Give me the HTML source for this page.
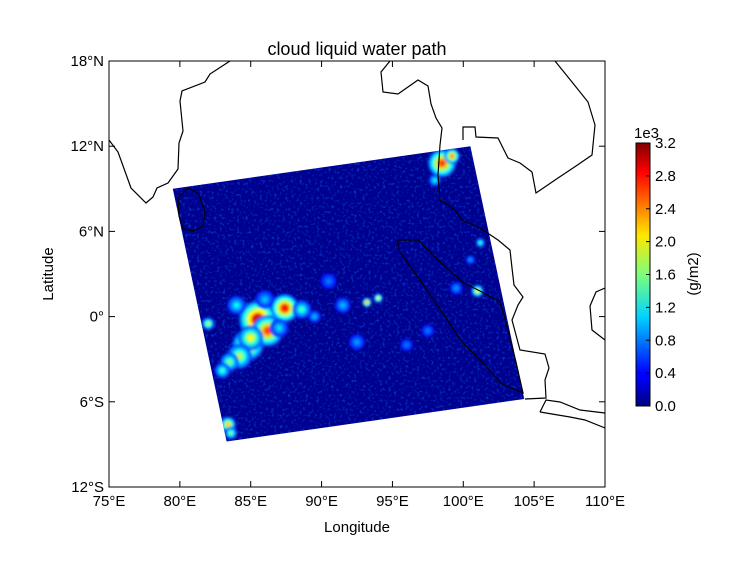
<!DOCTYPE html>
<html><head><meta charset="utf-8"><style>
html,body{margin:0;padding:0;background:#fff;}
svg{display:block;font-family:"Liberation Sans",sans-serif;}
</style></head><body>
<svg id="chart" width="744" height="575" viewBox="0 0 744 575">
<defs>
<filter id="blur" x="-50%" y="-50%" width="200%" height="200%"><feGaussianBlur stdDeviation="1.4"/></filter>
<filter id="speck" x="0" y="0" width="100%" height="100%">
<feTurbulence type="fractalNoise" baseFrequency="0.35" numOctaves="2" seed="3" result="n"/>
<feColorMatrix in="n" type="matrix" values="0 0 0 0 0  0 0 0 0 0.15  0 0 0 0 1  0 0 0 3 -1.6"/>
</filter>
<linearGradient id="jet" x1="0" y1="1" x2="0" y2="0">
<stop offset="0" stop-color="#00007f"/><stop offset="0.11" stop-color="#0000ff"/><stop offset="0.125" stop-color="#0000ff"/>
<stop offset="0.34" stop-color="#00d4ff"/><stop offset="0.5" stop-color="#7dff7a"/><stop offset="0.65" stop-color="#ffe600"/>
<stop offset="0.89" stop-color="#ff0000"/><stop offset="1" stop-color="#7f0000"/></linearGradient>
<clipPath id="plotclip"><rect x="109" y="61" width="496" height="426"/></clipPath>
</defs>
<rect width="744" height="575" fill="#fff"/>
<text x="357" y="55" font-size="18" text-anchor="middle">cloud liquid water path</text>
<g id="plot" clip-path="url(#plotclip)"></g>
<rect x="109" y="61" width="496" height="426" fill="none" stroke="#000" stroke-width="1"/>
<g id="axes"></g>
<text x="357" y="532" font-size="15" text-anchor="middle">Longitude</text>
<text x="53" y="274" font-size="15" text-anchor="middle" transform="rotate(-90 53 274)">Latitude</text>
<rect x="636" y="143" width="14" height="263" fill="url(#jet)" stroke="#000" stroke-width="1"/>
<text x="634" y="138" font-size="15">1e3</text>
<text x="698" y="274" font-size="15" text-anchor="middle" transform="rotate(-90 698 274)">(g/m2)</text>
<g id="cbticks"></g>
</svg>
<script>
const xTicks=[75,80,85,90,95,100,105,110];
const xTickLabels=["75°E","80°E","85°E","90°E","95°E","100°E","105°E","110°E"];
const yTicks=[18,12,6,0,-6,-12];
const yTickLabels=["18°N","12°N","6°N","0°","6°S","12°S"];
const cbTicks=[0,0.4,0.8,1.2,1.6,2.0,2.4,2.8,3.2];
const swathLon=[79.5,100.5,104.3,83.3];
const swathLat=[9.0,12.0,-5.8,-8.8];
const blobLon=[85.5,86.2,87.4,84.8,85.0,84.2,83.5,83.0,84.0,88.6,89.5,91.5,93.2,94.0,98.5,99.2,98.0,101.2,101.0,100.5,83.4,83.6,82.0,92.5,96.0,97.5,99.5,90.5,86.0,87.0];
const blobLat=[-0.2,-1.0,0.6,-2.0,-1.5,-2.8,-3.2,-3.8,0.8,0.5,0.0,0.8,1.0,1.3,10.8,11.3,9.6,5.2,1.8,4.0,-7.6,-8.2,-0.5,-1.8,-2.0,-1.0,2.0,2.5,1.2,-0.8];
const blobVal=[3.0,2.6,2.8,2.4,2.0,1.8,1.6,1.4,1.2,1.4,1.0,1.0,2.4,2.0,2.6,2.4,1.2,1.4,2.0,0.9,2.2,1.6,1.8,0.9,0.8,0.8,0.9,0.8,1.0,1.1];
const blobR=[1.2,1.0,0.9,1.0,0.8,0.8,0.6,0.5,0.6,0.6,0.4,0.5,0.3,0.3,0.9,0.5,0.4,0.3,0.4,0.3,0.5,0.4,0.4,0.5,0.4,0.4,0.4,0.5,0.6,0.6];
const coastIndia=[[109,140],[118,152],[131,188],[146,203],[153,197],[157,188],[168,183],[178,169],[179,143],[183,131],[180,101],[182,91],[205,82],[210,74],[230,61]];
const coastLanka=[[178,198],[188,188],[199,194],[205,212],[203,226],[194,231],[183,229],[179,216],[178,198]];
const coastIndochina=[[390,61],[381,72],[383,92],[398,94],[418,80],[428,86],[431,104],[436,118],[442,128],[440,145],[438,175],[440,200],[455,210],[462,220],[480,228],[498,240],[510,250],[512,268],[514,285],[523,297],[518,305],[512,320],[516,335],[520,350],[545,354],[549,368],[545,380],[546,398],[525,399]];
const coastGulf=[[463,140],[463,127],[475,127],[476,137],[498,138],[508,158],[520,163],[532,172],[536,193],[558,178],[576,166],[592,155],[595,125],[588,102],[572,82],[555,61]];
const coastSumatra=[[397,240],[418,240],[440,262],[462,282],[482,292],[500,302],[506,322],[511,342],[516,362],[523,393],[502,384],[482,362],[462,342],[442,312],[420,280],[400,252],[397,240]];
const coastJava=[[540,412],[546,400],[560,402],[580,410],[605,413]];
const coastJava2=[[605,428],[585,420],[570,417],[552,414],[540,412]];
const coastBorneo=[[605,288],[596,292],[590,306],[592,330],[605,340]];

const NS="http://www.w3.org/2000/svg";
const xS=lon=>109+(lon-75)*496/35;
const yS=lat=>61+(18-lat)*426/30;
const cbY=v=>406-v/3.2*263;
function jet(t){t=Math.max(0,Math.min(1,t));
 const r=Math.max(0,Math.min(1,1.5-Math.abs(4*t-3))),g=Math.max(0,Math.min(1,1.5-Math.abs(4*t-2))),b=Math.max(0,Math.min(1,1.5-Math.abs(4*t-1)));
 return `rgb(${Math.round(r*255)},${Math.round(g*255)},${Math.round(b*255)})`;}
function mk(tag,attrs,parent){const e=document.createElementNS(NS,tag);for(const k in attrs)e.setAttribute(k,attrs[k]);parent.appendChild(e);return e;}
const plot=document.getElementById('plot'),axes=document.getElementById('axes'),cb=document.getElementById('cbticks');
const svg=document.getElementById('chart');
const defs=svg.querySelector('defs');
const cp=mk('clipPath',{id:'swathclip'},defs);
const pts=swathLon.map((l,i)=>xS(l)+','+yS(swathLat[i])).join(' ');
mk('polygon',{points:pts},cp);
const sw=mk('polygon',{points:pts,fill:'#00008f'},plot);


const bg=mk('g',{'clip-path':'url(#swathclip)'},plot);
const sp=mk('rect',{x:109,y:61,width:496,height:426,filter:'url(#speck)',opacity:0.55},bg);


const bl=mk('g',{filter:'url(#blur)'},bg);
for(let i=0;i<blobLon.length;i++){
 const cx=xS(blobLon[i]),cy=yS(blobLat[i]),r=blobR[i]*14.2;
 const steps=[0.15,0.35,0.6,0.85,1];
 for(let s=0;s<steps.length;s++){
  const f=steps[s];
  const c=mk('circle',{cx:cx,cy:cy,r:r*(1.25-f),fill:jet(0.12+(blobVal[i]/3.2-0.12)*f)},bl);
  
  
 }
}
function line(arr,name){const p=mk('polyline',{points:arr.map(a=>a.join(',')).join(' '),fill:'none',stroke:'#000','stroke-width':1.2},plot);
 
 }
line(coastIndia,'coastline-india');line(coastLanka,'coastline-sri-lanka');line(coastIndochina,'coastline-indochina');
line(coastGulf,'coastline-gulf-thailand');line(coastSumatra,'coastline-sumatra');line(coastJava,'coastline-java');
line(coastJava2,'coastline-java-south');line(coastBorneo,'coastline-borneo');
xTicks.forEach((v,i)=>{const x=xS(v);
 mk('line',{x1:x,x2:x,y1:487,y2:481,stroke:'#000'},axes);mk('line',{x1:x,x2:x,y1:61,y2:67,stroke:'#000'},axes);
 const t=mk('text',{x:x,y:506,'font-size':15,'text-anchor':'middle'},axes);t.textContent=xTickLabels[i];
 
 });
yTicks.forEach((v,i)=>{const y=yS(v);
 mk('line',{x1:109,x2:115,y1:y,y2:y,stroke:'#000'},axes);mk('line',{x1:605,x2:599,y1:y,y2:y,stroke:'#000'},axes);
 const t=mk('text',{x:104,y:y+5,'font-size':15,'text-anchor':'end'},axes);t.textContent=yTickLabels[i];
 
 });
cbTicks.forEach(v=>{const y=cbY(v);
 mk('line',{x1:646,x2:650,y1:y,y2:y,stroke:'#000'},cb);
 const t=mk('text',{x:655,y:y+5,'font-size':15},cb);t.textContent=v.toFixed(1);
 
 });
</script>
</body></html>
